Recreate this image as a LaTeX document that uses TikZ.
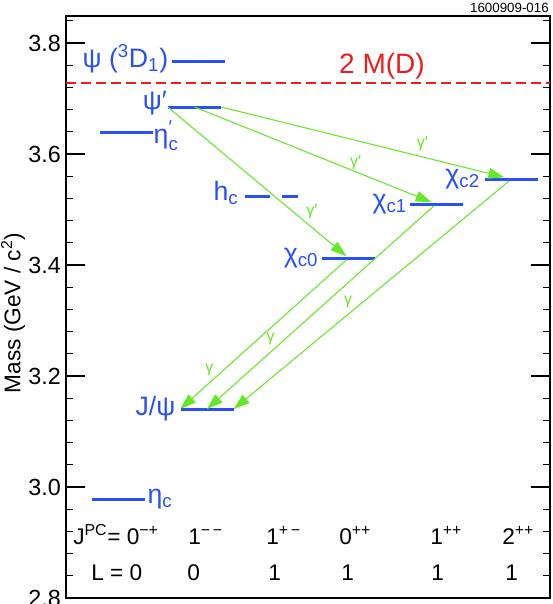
\documentclass[tikz,border=0pt]{standalone}
\usepackage{fontspec}
\setmainfont{Liberation Sans}
\usepackage{amsmath}
\usetikzlibrary{arrows.meta, positioning}

\definecolor{lvlblue}{RGB}{40,80,245}
\definecolor{phgreen}{RGB}{100,232,40}
\definecolor{thrred}{RGB}{235,30,30}

\tikzset{
  lvl/.style={rectangle, fill=lvlblue, inner sep=0pt, minimum width=39.75pt, minimum height=2.25pt},
  lvltxt/.style={text=lvlblue, font=\fontsize{20}{22}\selectfont, inner sep=0.5pt},
  photon/.style={draw=phgreen, line width=0.8pt, -{Triangle[length=12pt, width=8pt]}},
  phtxt/.style={text=phgreen, font=\fontsize{12}{14}\selectfont, inner sep=1pt},
  qn/.style={font=\fontsize{17}{19}\selectfont, anchor=base west, inner sep=0pt},
  tick/.style={line width=0.8pt},
}

\begin{document}
\begin{tikzpicture}[x=0.75pt, y=-0.75pt]
\useasboundingbox (0,0) rectangle (553,604);

% frame, ticks, axis
\draw[line width=1.5pt] (66,15.5) rectangle (550,597.5);
\foreach \i in {0,...,26} {
  \draw[tick] (66,598-22.2*\i) -- ++(7,0);
  \draw[tick] (550,598-22.2*\i) -- ++(-7,0);
}
\foreach \i/\v in {0/2.8, 5/3.0, 10/3.2, 15/3.4, 20/3.6, 25/3.8} {
  \draw[tick] (66,598-22.2*\i) -- ++(19,0);
  \draw[tick] (550,598-22.2*\i) -- ++(-19,0);
  \node[anchor=east, inner sep=0pt, font=\fontsize{17.5}{19}\selectfont] (t\i) at (61,598-22.2*\i) {\v};
}
\node[rotate=90, font=\fontsize{17}{19}\selectfont] (ylab) at (13,313) {Mass (GeV / c\textsuperscript{2})};
\node[anchor=base east, inner sep=0pt, font=\fontsize{10}{12}\selectfont] (fig) at (549,12) {1600909-016};

% open charm threshold
\draw[thrred, line width=0.9pt, dash pattern=on 7.5pt off 3.75pt] (66,83) -- (550,83);
\node[text=thrred, anchor=base, inner sep=0pt, font=\fontsize{21}{24}\selectfont] (thr) at (382,73) {2 M(D)};

% levels
\node[lvl] (psiD) at (198.5,61) {};
\node[lvl] (psip) at (194.5,107) {};
\node[lvl] (etacp) at (126,132) {};
\node[lvl, fill=none] (hc) at (271.5,196) {};
\draw[lvlblue, line width=2.25pt, dash pattern=on 18.75pt off 9pt on 12pt off 20pt] (hc.west) -- (hc.east);
\node[lvl] (chi0) at (348.5,258) {};
\node[lvl] (chi1) at (436,204) {};
\node[lvl] (chi2) at (511.5,179) {};
\node[lvl] (jpsi) at (207,409) {};
\node[lvl] (etac) at (118.5,499) {};

\node[lvltxt, left=2pt of psiD, yshift=2pt] (psiDl) {ψ (\textsuperscript{3}D\textsubscript{1})};
\node[lvltxt, left=0pt of psip, yshift=3pt] (psipl) {ψ′};
\node[lvltxt, right=0pt of etacp, yshift=-3pt] (etacpl) {$\text{η}^{\text{′}}_{\text{c}}$};
\node[lvltxt, left=4pt of hc, yshift=2pt] (hcl) {h\textsubscript{c}};
\node[lvltxt, left=2pt of chi0] (chi0l) {χ\textsubscript{c0}};
\node[lvltxt, left=1pt of chi1] (chi1l) {χ\textsubscript{c1}};
\node[lvltxt, left=3pt of chi2] (chi2l) {χ\textsubscript{c2}};
\node[lvltxt, left=3pt of jpsi] (jpsil) {J/ψ};
\node[lvltxt, right=1pt of etac] (etacl) {η\textsubscript{c}};

% radiative transitions
\draw[photon] (psip.west) -- node[phtxt, pos=.765, anchor=south west] {γ′} (chi0);
\draw[photon] (psip.center) -- node[phtxt, pos=.68, anchor=south] {γ′} (chi1);
\draw[photon] (psip.east) -- node[phtxt, pos=.71, above=3pt] {γ′} (chi2);
\draw[photon] (chi0) -- node[phtxt, pos=.79, anchor=south east] {γ} (jpsi.west);
\draw[photon] (chi1) -- node[phtxt, pos=.694, anchor=south east] {γ} (jpsi.center);
\draw[photon] (chi2) -- node[phtxt, pos=.564, anchor=south east] {γ} (jpsi.east);

% quantum numbers
\node[qn] (jpc) at (73,544) {J\textsuperscript{PC}= 0\textsuperscript{−+}};
\node[qn] (jpc1) at (188,544) {1\textsuperscript{−\,−}};
\node[qn] (jpc2) at (266,544) {1\textsuperscript{+\,−}};
\node[qn] (jpc3) at (339,544) {0\textsuperscript{++}};
\node[qn] (jpc4) at (430,544) {1\textsuperscript{++}};
\node[qn] (jpc5) at (502,544) {2\textsuperscript{++}};
\node[qn] (ell) at (91,580) {L = 0};
\node[qn] (ell1) at (187,580) {0};
\node[qn] (ell2) at (268,580) {1};
\node[qn] (ell3) at (341,580) {1};
\node[qn] (ell4) at (431,580) {1};
\node[qn] (ell5) at (505,580) {1};
\end{tikzpicture}
\end{document}
